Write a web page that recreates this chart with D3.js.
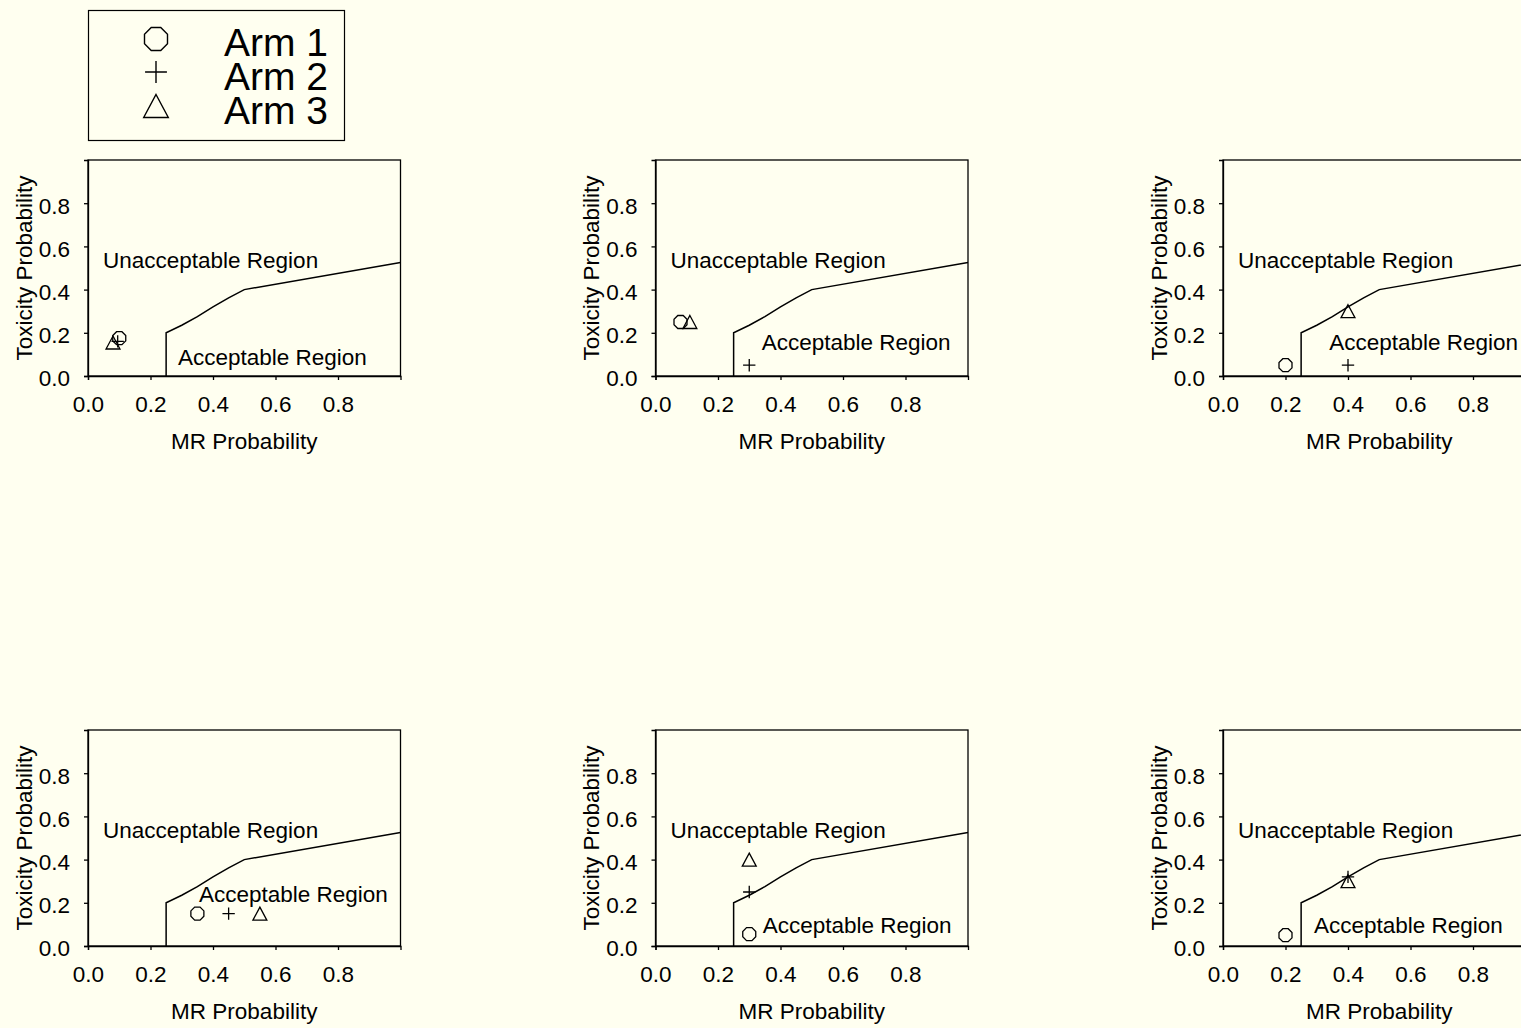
<!DOCTYPE html>
<html>
<head>
<meta charset="utf-8">
<script src="https://cdn.jsdelivr.net/npm/d3@7"></script>
<style>
  html, body { margin: 0; padding: 0; background: #fffff0; overflow: hidden; }
  svg { display: block; }
  text { font-family: "Liberation Sans", Arial, sans-serif; fill: #000; }
</style>
</head>
<body>
<div id="chart"></div>
<script>
// arm names in legend
const arms = ["Arm 1", "Arm 2", "Arm 3"];

// one [MR, toxicity] point per panel, panels left-to-right, top-to-bottom
const arm1 = [[0.10, 0.175], [0.08, 0.25], [0.20, 0.05], [0.35, 0.15], [0.30, 0.055], [0.20, 0.05]];
const arm2 = [[0.095, 0.16], [0.30, 0.05], [0.40, 0.05], [0.45, 0.15], [0.30, 0.25], [0.40, 0.32]];
const arm3 = [[0.08, 0.155], [0.11, 0.25], [0.40, 0.30], [0.55, 0.15], [0.30, 0.40], [0.40, 0.30]];

// acceptable / unacceptable boundary
const boundary = [[0.25, 0], [0.25, 0.2], [0.3, 0.235], [0.35, 0.275], [0.4, 0.32],
                  [0.45, 0.362], [0.5, 0.4], [1.0, 0.525]];

// region label anchors (data coords)
const unaccLabel = [0.048, 0.5];
const accLabel = [[0.288, 0.05], [0.34, 0.12], [0.34, 0.12], [0.355, 0.205], [0.343, 0.058], [0.291, 0.058]];

const xTicks = [0, 0.2, 0.4, 0.6, 0.8];
const yTicks = [0, 0.2, 0.4, 0.6, 0.8];

const W = 1521, H = 1028;
const pw = 312.5, ph = 216;
const colX = [88, 655.5, 1223];
const rowY = [160, 730];
const fs = 22.5;

const svg = d3.select("#chart").append("svg")
    .attr("width", W).attr("height", H);

svg.append("rect").attr("width", W).attr("height", H).attr("fill", "#fffff0");

// symbol paths centred on their bounding box
function octagon(w) {
    const R = (w / 2) / Math.cos(Math.PI / 8);
    const pts = d3.range(8).map(k => {
        const a = Math.PI / 8 + k * Math.PI / 4;
        return [R * Math.cos(a), R * Math.sin(a)];
    });
    return "M" + pts.map(p => p.join(",")).join("L") + "Z";
}
function plus(w) {
    const h = w / 2;
    return `M${-h},0L${h},0M0,${-h}L0,${h}`;
}
function triangle(w, hgt) {
    return `M0,${-hgt / 2}L${w / 2},${hgt / 2}L${-w / 2},${hgt / 2}Z`;
}
const shapes = [s => octagon(s), s => plus(s * 0.95), s => triangle(s * 1.07, s)];

// legend
const lg = svg.append("g");
lg.append("rect").attr("x", 88.5).attr("y", 10.5).attr("width", 256).attr("height", 130)
    .attr("fill", "none").attr("stroke", "#000").attr("stroke-width", 1.2);
const legY = [39, 72, 106];
const legBase = [56, 90, 124];
arms.forEach((a, i) => {
    lg.append("path").attr("transform", `translate(156,${legY[i]})`)
        .attr("d", shapes[i](23)).attr("fill", "none").attr("stroke", "#000").attr("stroke-width", 1.4);
    lg.append("text").attr("x", 224).attr("y", legBase[i])
        .style("font-size", "39px").text(a);
});

const x = d3.scaleLinear().domain([0, 1]).range([0, pw]);
const y = d3.scaleLinear().domain([0, 1]).range([ph, 0]);
const line = d3.line().x(d => x(d[0])).y(d => y(d[1]));

for (let p = 0; p < 6; p++) {
    const g = svg.append("g")
        .attr("transform", `translate(${colX[p % 3]},${rowY[Math.floor(p / 3)]})`);

    // frame
    g.append("rect").attr("x", 0).attr("y", 0).attr("width", pw).attr("height", ph)
        .attr("fill", "none").attr("stroke", "#000").attr("stroke-width", 1.3);

    const ya = g.append("g")
        .call(d3.axisLeft(y).tickValues(yTicks).tickSize(4).tickPadding(14)
            .tickFormat(d3.format(".1f")));
    ya.selectAll("text").style("font-size", fs + "px").attr("dy", "0.44em");

    const xa = g.append("g").attr("transform", `translate(0,${ph})`)
        .call(d3.axisBottom(x).tickValues(xTicks).tickSize(4).tickPadding(16)
            .tickFormat(d3.format(".1f")));
    xa.selectAll("text").style("font-size", fs + "px");

    g.selectAll(".domain").attr("stroke-width", 1.3);
    g.selectAll(".tick line").attr("stroke-width", 1.3);
    g.selectAll(".tick text").style("font-family", "'Liberation Sans', Arial, sans-serif");

    // axis titles
    g.append("text").attr("x", pw / 2).attr("y", ph + 73)
        .attr("text-anchor", "middle").style("font-size", fs + "px").text("MR Probability");
    g.append("text").attr("transform", `translate(-56.5,${ph / 2}) rotate(-90)`)
        .attr("text-anchor", "middle").style("font-size", fs + "px").text("Toxicity Probability");

    // boundary
    g.append("path").datum(boundary).attr("d", line)
        .attr("fill", "none").attr("stroke", "#000").attr("stroke-width", 1.5);

    // region labels
    g.append("text").attr("x", x(unaccLabel[0])).attr("y", y(unaccLabel[1]))
        .style("font-size", fs + "px").text("Unacceptable Region");
    g.append("text").attr("x", x(accLabel[p][0])).attr("y", y(accLabel[p][1]))
        .style("font-size", fs + "px").text("Acceptable Region");

    // arm points
    [arm1, arm2, arm3].forEach((arm, i) => {
        g.append("path")
            .attr("transform", `translate(${x(arm[p][0])},${y(arm[p][1])})`)
            .attr("d", shapes[i](13))
            .attr("fill", "none").attr("stroke", "#000").attr("stroke-width", 1.3);
    });
}
</script>
</body>
</html>
